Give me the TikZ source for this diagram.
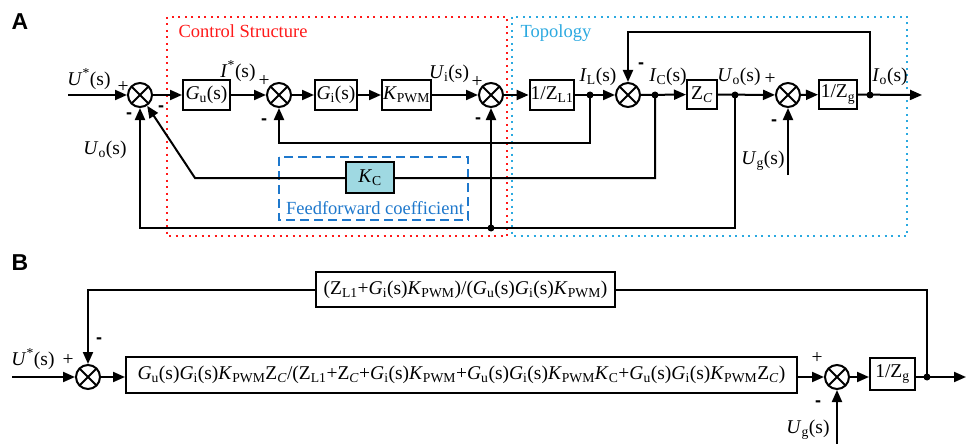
\documentclass[tikz,border=0pt]{standalone}
\usepackage{fontspec}
\setmainfont{Liberation Serif}
\newfontfamily\labfont{Liberation Sans}
\usetikzlibrary{arrows.meta}

\definecolor{ctrlred}{HTML}{FF1A1A}
\definecolor{topocyan}{HTML}{2BA9E0}
\definecolor{ffblue}{HTML}{1E78CC}
\definecolor{kcfill}{HTML}{9FD9E2}

% transfer-function symbols
\newcommand\Gus{\textit{G}\textsubscript{u}(s)}
\newcommand\Gis{\textit{G}\textsubscript{i}(s)}
\newcommand\Kpwm{\textit{K}\textsubscript{PWM}}
\newcommand\ZLone{Z\textsubscript{L1}}
\newcommand\ZCap{Z\textsubscript{\textit{C}}}
\newcommand\KCap{\textit{K}\textsubscript{C}}

\begin{document}
\begin{tikzpicture}[x=1pt,y=-1pt,
  line width=2pt,
  >={Triangle[length=12pt,width=10pt]},
  every node/.style={font=\fontsize{19.5}{22}\selectfont},
  blk/.style={draw, line width=2pt, minimum height=30pt, inner sep=1pt},
  sumnode/.style={circle, draw, line width=2pt, minimum size=24pt, inner sep=0pt,
    path picture={\draw[line width=2pt] (path picture bounding box.north west) -- (path picture bounding box.south east)
                   (path picture bounding box.north east) -- (path picture bounding box.south west);}},
  jdot/.style={circle, fill, inner sep=0pt, minimum size=7pt},
  lab/.style={inner sep=0pt},
  sgn/.style={inner sep=0pt, font=\labfont\bfseries\fontsize{18}{18}\selectfont},
  pnl/.style={inner sep=0pt, font=\labfont\bfseries\fontsize{23}{23}\selectfont},
  region/.style={line width=2pt, dash pattern=on 2pt off 4.5pt}
]
\useasboundingbox (0,0) rectangle (967,444);

% ---------------- Panel A ----------------
\node[pnl] (lblA) at (20,22) {A};

% region frames
\draw[region, ctrlred] (167,17) rectangle (507,236);
\draw[region, topocyan] (512,17) rectangle (907,236);
\node[lab, text=ctrlred, font=\fontsize{18.5}{20}\selectfont] (tctrl) at (243,31) {Control Structure};
\node[lab, text=topocyan, font=\fontsize{18.5}{20}\selectfont] (ttopo) at (556,33) {Topology};

% feed-forward frame
\draw[ffblue, line width=2pt, dash pattern=on 9pt off 5pt] (279,157) rectangle (468,220);
\node[lab, text=ffblue, font=\fontsize{18.5}{20}\selectfont] (tff) at (375,208) {Feedforward coefficient};

% forward path blocks
\coordinate (inA) at (68,95);
\node[sumnode] (s1) at (140,95) {};
\node[blk, minimum width=47pt] (gu) at (206.5,95) {\Gus};
\node[sumnode] (s2) at (279,95) {};
\node[blk, minimum width=42pt] (gi) at (336,95) {\Gis};
\node[blk, minimum width=49pt] (kp) at (406.5,95) {\Kpwm};
\node[sumnode] (s3) at (491,95) {};
\node[blk, minimum width=42pt] (zl) at (552,95) {1/\ZLone};
\node[jdot] (il) at (590,95) {};
\node[sumnode] (s4) at (628,95) {};
\node[jdot] (ic) at (655,95) {};
\node[blk, minimum width=30pt, minimum height=29pt] (zc) at (702,94.5) {\ZCap};
\node[jdot] (uo) at (735,95) {};
\node[sumnode] (s5) at (788,95) {};
\node[blk, minimum width=38pt, minimum height=29pt] (zg) at (838,94.5) {1/Z\textsubscript{g}};
\node[jdot] (io) at (870,95) {};
\coordinate (outA) at (922,95);
\coordinate (ugA) at (788,175);
\node[jdot] (fbd) at (491,228) {};

\draw[->] (inA) -- (s1);
\draw[->] (s1) -- (gu);
\draw[->] (gu) -- (s2);
\draw[->] (s2) -- (gi);
\draw[->] (gi) -- (kp);
\draw[->] (kp) -- (s3);
\draw[->] (s3) -- (zl);
\draw[->] (zl) -- (s4);
\draw[->] (s4) -- (zc);
\draw[->] (zc) -- (s5);
\draw[->] (s5) -- (zg);
\draw[->] (zg) -- (outA);

% feedback loops
\draw[->] (io.center) -- (870,32) -| (s4.north);
\draw[->] (il.center) -- (590,143) -| (s2.south);
\draw[->] (ic.center) -- (655,178) -- (195,178) -- (s1);
\draw[->] (uo.center) -- (735,228) -| (s1.south);
\draw[->] (fbd.center) -- (s3.south);
\draw[->] (ugA) -- (s5.south);

\node[blk, fill=kcfill, minimum width=48pt, minimum height=31pt] (kc) at (370,177.5) {\KCap};

% signal labels and signs
\node[lab] (uref) at (89,79) {\textit{U}\textsuperscript{*}(s)};
\node[lab] (p1) at (123,87) {+};
\node[sgn] (m1a) at (129,116) {-};
\node[sgn] (m1b) at (161,109) {-};
\node[lab] (uofb) at (105,150) {\textit{U}\textsubscript{o}(s)};
\node[lab] (iref) at (238,71) {\textit{I}\textsuperscript{*}(s)};
\node[lab] (p2) at (264,81) {+};
\node[sgn] (m2) at (264,122) {-};
\node[lab] (ui) at (449,74) {\textit{U}\textsubscript{i}(s)};
\node[lab] (p3) at (477,82) {+};
\node[sgn] (m3) at (478,121) {-};
\node[lab] (ilt) at (598,77) {\textit{I}\textsubscript{L}(s)};
\node[sgn] (m4) at (641,66) {-};
\node[lab] (ict) at (668,77) {\textit{I}\textsubscript{C}(s)};
\node[lab] (uot) at (739,77) {\textit{U}\textsubscript{o}(s)};
\node[lab] (p5) at (770,79) {+};
\node[sgn] (m5) at (774,123) {-};
\node[lab] (iot) at (890,77) {\textit{I}\textsubscript{o}(s)};
\node[lab] (ugt) at (763,161) {\textit{U}\textsubscript{g}(s)};

% ---------------- Panel B ----------------
\node[pnl] (lblB) at (20,263) {B};

\coordinate (inB) at (12,377);
\node[sumnode] (b1) at (88,377) {};
\node[blk, minimum width=671pt, minimum height=36pt] (big) at (461.5,375)
  {\Gus\Gis\Kpwm\ZCap/(\ZLone+\ZCap+\Gis\Kpwm+\Gus\Gis\Kpwm\KCap+\Gus\Gis\Kpwm\ZCap)};
\node[blk, minimum width=299pt, minimum height=35pt] (top) at (465.5,289.5)
  {(\ZLone+\Gis\Kpwm)/(\Gus\Gis\Kpwm)};
\node[sumnode] (b2) at (837,377) {};
\node[blk, minimum width=45pt, minimum height=32pt] (zgb) at (892.5,374) {1/Z\textsubscript{g}};
\node[jdot] (iob) at (927,377) {};
\coordinate (outB) at (966,377);
\coordinate (ugB) at (837,444);

\draw[->] (inB) -- (b1);
\draw[->] (b1) -- (b1 -| big.west);
\draw[->] (big.east |- b2) -- (b2);
\draw[->] (b2) -- (b2 -| zgb.west);
\draw[->] (zgb.east |- iob) -- (outB);
\draw (iob.center) |- (top.east);
\draw[->] (top.west) -| (b1.north);
\draw[->] (ugB) -- (b2.south);

\node[lab] (urefb) at (33,359) {\textit{U}\textsuperscript{*}(s)};
\node[lab] (pb1) at (68,360) {+};
\node[sgn] (mb1) at (99,341) {-};
\node[lab] (pb2) at (817,358) {+};
\node[sgn] (mb2) at (818,404) {-};
\node[lab] (ugbt) at (808,430) {\textit{U}\textsubscript{g}(s)};
\end{tikzpicture}
\end{document}
